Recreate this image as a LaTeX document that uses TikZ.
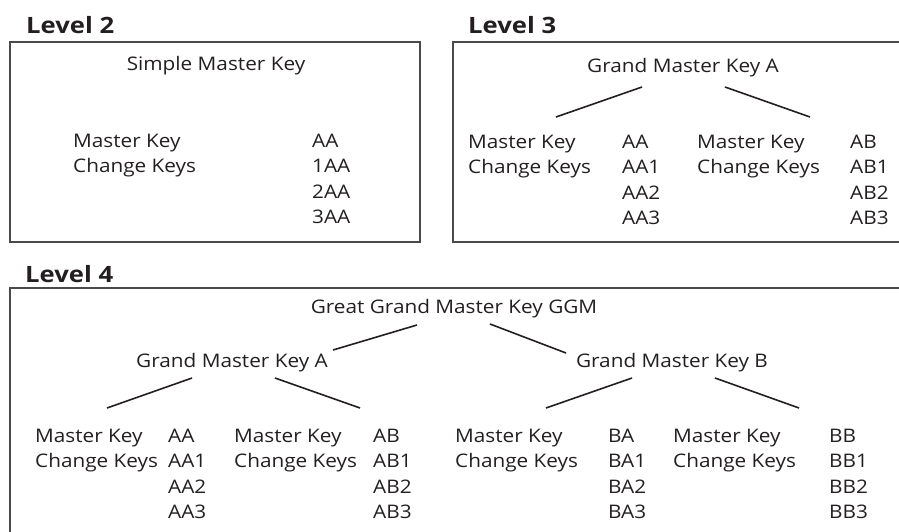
\documentclass[tikz,border=0pt]{standalone}
\usepackage{fontspec}
\setmainfont{Open Sans}[FakeStretch=1.11, BoldFeatures={FakeStretch=1.14}]
\usetikzlibrary{positioning}
\definecolor{ink}{HTML}{231F20}
\definecolor{framegray}{HTML}{4A4A4A}
\newcommand{\keylist}[1]{\begin{tabular}[t]{@{}l@{}}#1\end{tabular}}

\begin{document}
\begin{tikzpicture}[
            x=1pt, y=-1pt,
            every node/.style={font=\fontsize{18.7}{25.5}\selectfont, text=ink, inner sep=0pt},
            level/.style={font=\fontsize{22.5}{26}\selectfont\bfseries, anchor=base west},
            head/.style={anchor=base},
            keytext/.style={anchor=base west},
            frame/.style={draw=framegray, line width=1.1pt},
            branch/.style={draw=ink, line width=1.6pt}
      ]
      \useasboundingbox (0,0) rectangle (899,531);

      % Frames
      \draw[frame] (10,42) rectangle (420,242);
      \draw[frame] (453,42) rectangle (930,242);
      \draw[frame] (10,288) rectangle (930,560);

      % Level 2
      \node[level] (lv2) at (26,33) {Level 2};
      \node[head] (smk) at (216,70) {Simple Master Key};
      \node[keytext] (mk2) at (73,147) {\keylist{Master Key\\Change Keys}};
      \node[keytext] (k2) at (312,147) {\keylist{AA\\1AA\\2AA\\3AA}};

      % Level 3
      \node[level] (lv3) at (468,33) {Level 3};
      \node[head] (gm3) at (683,72) {Grand Master Key A};
      \node[keytext] (mk3a) at (468,148) {\keylist{Master Key\\Change Keys}};
      \node[keytext] (k3a) at (622,148) {\keylist{AA\\AA1\\AA2\\AA3}};
      \node[keytext] (mk3b) at (697,148) {\keylist{Master Key\\Change Keys}};
      \node[keytext] (k3b) at (850,148) {\keylist{AB\\AB1\\AB2\\AB3}};

      \draw[branch] ([xshift=-41pt, yshift=-15pt]gm3.base) -- ([xshift=88pt, yshift=31pt]mk3a.base west);
      \draw[branch] ([xshift=42pt, yshift=-15pt]gm3.base) -- ([xshift=113pt, yshift=31pt]mk3b.base west);

      % Level 4
      \node[level] (lv4) at (25,282) {Level 4};
      \node[head] (ggm) at (454,313) {Great Grand Master Key GGM};
      \node[head] (gm4a) at (232,367) {Grand Master Key A};
      \node[head] (gm4b) at (672,367) {Grand Master Key B};

      \node[keytext] (mk4aa) at (35,442) {\keylist{Master Key\\Change Keys}};
      \node[keytext] (k4aa) at (168,442) {\keylist{AA\\AA1\\AA2\\AA3}};
      \node[keytext] (mk4ab) at (234,442) {\keylist{Master Key\\Change Keys}};
      \node[keytext] (k4ab) at (373,442) {\keylist{AB\\AB1\\AB2\\AB3}};
      \node[keytext] (mk4ba) at (455,442) {\keylist{Master Key\\Change Keys}};
      \node[keytext] (k4ba) at (608,442) {\keylist{BA\\BA1\\BA2\\BA3}};
      \node[keytext] (mk4bb) at (673,442) {\keylist{Master Key\\Change Keys}};
      \node[keytext] (k4bb) at (829,442) {\keylist{BB\\BB1\\BB2\\BB3}};

      \draw[branch] ([xshift=-37pt, yshift=-12pt]ggm.base) -- ([xshift=101pt, yshift=17pt]gm4a.base);
      \draw[branch] ([xshift=36pt, yshift=-11pt]ggm.base) -- ([xshift=-106pt, yshift=14pt]gm4b.base);

      \draw[branch] ([xshift=-40pt, yshift=-11pt]gm4a.base) -- ([xshift=72pt, yshift=34pt]mk4aa.base west);
      \draw[branch] ([xshift=43pt, yshift=-11pt]gm4a.base) -- ([xshift=126pt, yshift=34pt]mk4ab.base west);
      \draw[branch] ([xshift=-40pt, yshift=-11pt]gm4b.base) -- ([xshift=91pt, yshift=34pt]mk4ba.base west);
      \draw[branch] ([xshift=43pt, yshift=-11pt]gm4b.base) -- ([xshift=126pt, yshift=34pt]mk4bb.base west);
\end{tikzpicture}
\end{document}
